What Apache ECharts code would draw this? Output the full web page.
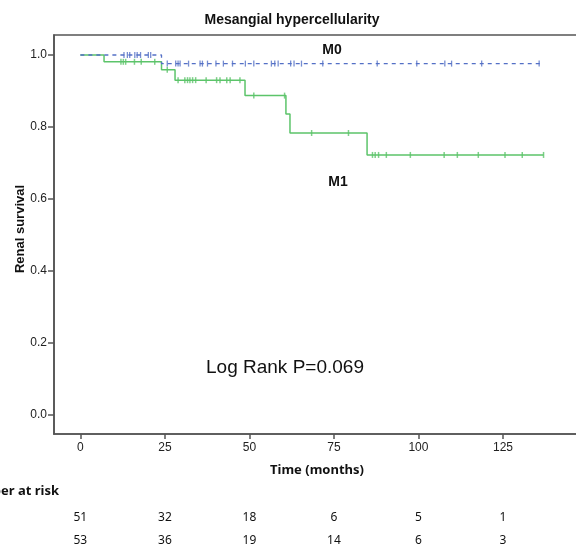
<!DOCTYPE html>
<html>
<head>
<meta charset="utf-8">
<script src="https://cdn.jsdelivr.net/npm/echarts@6/dist/echarts.min.js"></script>
<style>
  html, body { margin: 0; padding: 0; background: #fff; }
</style>
</head>
<body>
<div id="chartdata" style="width:576px;height:547px"></div>
<script>
// survival steps: time of each drop and survival after it
var m0Times = [0, 24, 136]
var m0Surv = [1.0, 0.976, 0.976]
var m1Times = [0, 7, 24, 28, 48.7, 60.8, 62, 84.8, 137]
var m1Surv = [1.0, 0.981, 0.959, 0.930, 0.887, 0.836, 0.783, 0.722, 0.722]
// censored times
var m0Censor = [12.9, 13.9, 14.6, 16.1, 16.8, 17.8, 20.1, 20.8,
  25.7, 28.2, 28.9, 29.5, 32, 35.4, 36.1, 37.6, 40.1, 42.3, 45, 48.8, 51.3,
  56.5, 57.5, 58.5, 62.2, 63.2, 65.4, 71.7, 87.8, 99.5, 107.8, 109.8, 118.7, 135.7]
var m1Censor = [12, 12.7, 13.4, 16, 18, 22, 25.7,
  28.9, 30.9, 31.7, 32.4, 33.2, 34.1, 37.2, 40.3, 41.3, 43.3, 44.3, 47.2,
  51.3, 60.4, 68.4, 79.3,
  86.4, 87.2, 88.2, 90.5, 97.6, 107.6, 111.5, 117.7, 125.6, 130.7, 137]
var xTicks = [0, 25, 50, 75, 100, 125]
var yTicks = [0, 0.2, 0.4, 0.6, 0.8, 1.0]
var riskM0 = [51, 32, 18, 6, 5, 1]
var riskM1 = [53, 36, 19, 14, 6, 3]

var blue = '#5470c6'
var green = '#5cc46a'
var arial = '"Liberation Sans", Arial, sans-serif'
var segoe = '"Noto Sans", "Open Sans", sans-serif'

function survAt (times, surv, t) {
  var s = surv[0]
  for (var i = 0; i < times.length; i++) {
    if (times[i] <= t) s = surv[i]
  }
  return s
}
function zip (times, surv) {
  return times.map(function (t, i) { return [t, surv[i]] })
}
function censorPts (c, times, surv) {
  return c.map(function (t) { return [t, survAt(times, surv, t)] })
}

var chart = echarts.init(document.getElementById('chartdata'))
var option = {
  animation: false,
  grid: {
    left: 54,
    top: 35,
    width: 533.5,
    height: 399,
    show: true,
    borderColor: '#555',
    borderWidth: 1.6,
    outerBoundsMode: 'none'
  },
  xAxis: {
    type: 'value',
    min: -7.8,
    max: 150,
    splitLine: { show: false },
    axisLine: { show: true, onZero: false, lineStyle: { color: '#555', width: 1.6 } },
    axisTick: { show: true, length: 5, customValues: xTicks, lineStyle: { color: '#555', width: 1.5 } },
    axisLabel: {
      customValues: xTicks,
      margin: 8,
      color: '#222',
      fontSize: 12,
      fontFamily: arial
    }
  },
  yAxis: {
    type: 'value',
    min: -0.0542,
    max: 1.0556,
    splitLine: { show: false },
    axisLine: { show: true, onZero: false, lineStyle: { color: '#555', width: 1.6 } },
    axisTick: { show: true, length: 6, customValues: yTicks, lineStyle: { color: '#555', width: 1.5 } },
    axisLabel: {
      customValues: yTicks,
      margin: 7,
      color: '#222',
      fontSize: 12,
      fontFamily: arial,
      formatter: function (v) { return v.toFixed(1) }
    }
  },
  series: [
    {
      name: 'M0',
      type: 'line',
      step: 'end',
      symbol: 'none',
      data: zip(m0Times, m0Surv),
      lineStyle: { color: blue, width: 1.3, type: [4, 4] },
      z: 3
    },
    {
      name: 'M1',
      type: 'line',
      step: 'end',
      symbol: 'none',
      data: zip(m1Times, m1Surv),
      lineStyle: { color: green, width: 1.5 },
      z: 2
    },
    {
      name: 'M0 censored',
      type: 'scatter',
      symbol: 'rect',
      symbolSize: [1.3, 6],
      itemStyle: { color: blue },
      data: censorPts(m0Censor, m0Times, m0Surv),
      z: 4
    },
    {
      name: 'M1 censored',
      type: 'scatter',
      symbol: 'rect',
      symbolSize: [1.5, 6],
      itemStyle: { color: green },
      data: censorPts(m1Censor, m1Times, m1Surv),
      z: 4
    }
  ]
}
chart.setOption(option)

function txt (x, y, s, font, align, rot) {
  return {
    type: 'text',
    x: x,
    y: y,
    rotation: rot || 0,
    style: { text: s, font: font, fill: '#111', textAlign: align || 'center', textVerticalAlign: 'middle' }
  }
}

// texts + number at risk table placed with the chart's own x scale
var g = [
  txt(292, 20, 'Mesangial hypercellularity', 'bold 14px ' + arial),
  txt(20, 229, 'Renal survival', 'bold 13px ' + arial, 'center', Math.PI / 2),
  txt(317, 470, 'Time (months)', 'bold 13px ' + segoe),
  txt(332, 50, 'M0', 'bold 14px ' + arial),
  txt(338, 182, 'M1', 'bold 14px ' + arial),
  txt(285, 368, 'Log Rank P=0.069', '19px ' + arial),
  txt(59, 491, 'Number at risk', 'bold 13px ' + segoe, 'right')
]
xTicks.forEach(function (t, i) {
  var px = chart.convertToPixel({ xAxisIndex: 0 }, t)
  g.push(txt(px, 518, String(riskM0[i]), '12px ' + segoe))
  g.push(txt(px, 541, String(riskM1[i]), '12px ' + segoe))
})
chart.setOption({ graphic: g })

window.onresize = function () {
  chart.resize()
}
</script>
</body>
</html>
